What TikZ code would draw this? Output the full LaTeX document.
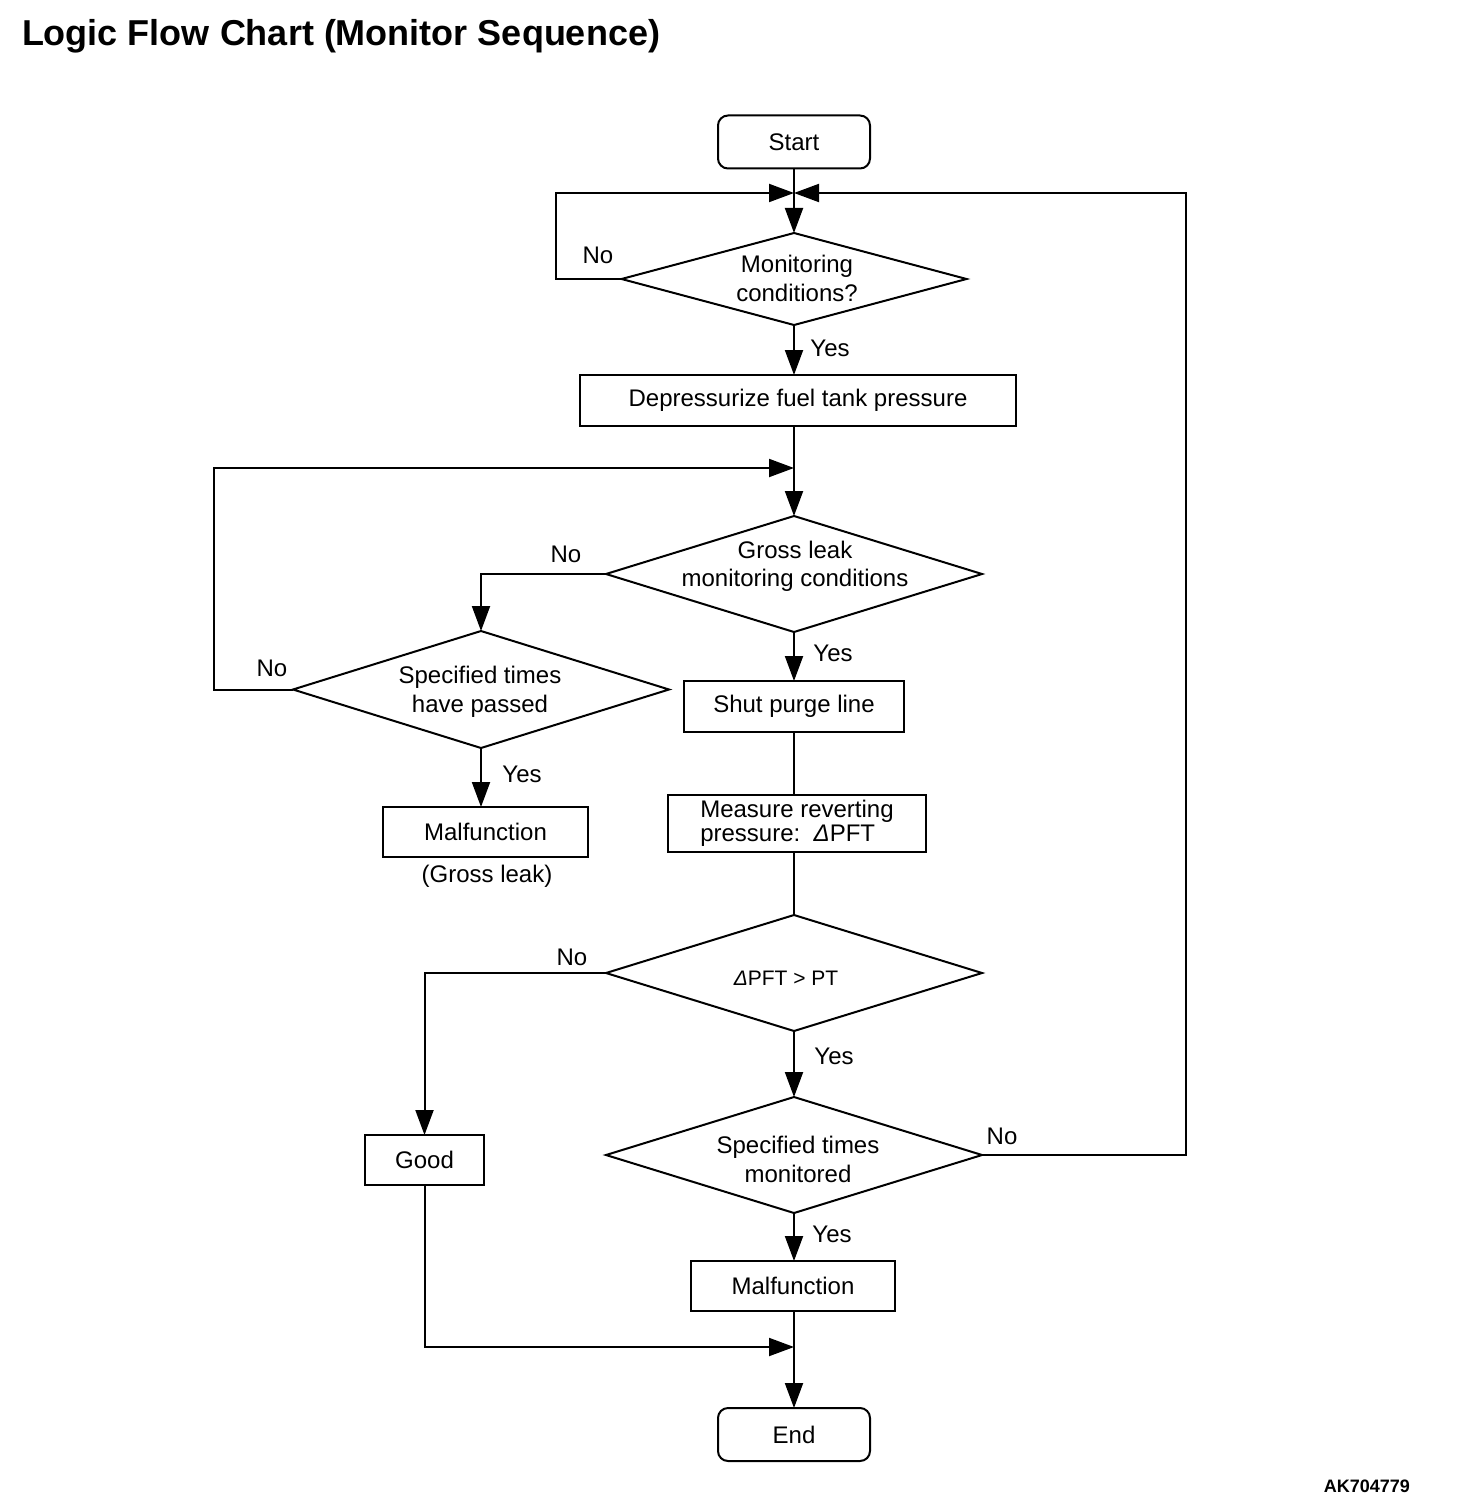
\documentclass[tikz,border=0pt]{standalone}
\usepackage{fontspec}
\setmainfont{Liberation Sans}
\usetikzlibrary{arrows.meta,shapes.geometric}
\begin{document}
\begin{tikzpicture}[x=1pt,y=-1pt,
  every node/.style={font=\fontsize{24}{29}\selectfont, inner sep=0pt, outer sep=0pt},
  box/.style 2 args={draw, line width=2pt, rectangle, minimum width=#1, minimum height=#2},
  term/.style={draw, line width=2pt, rectangle, rounded corners=10pt, minimum width=152pt, minimum height=53pt},
  dia/.style 2 args={draw, line width=2pt, diamond, minimum width=#1, minimum height=#2},
  ln/.style={line width=2pt},
  arr/.style={line width=2pt, -{Triangle[length=25pt,width=18pt]}},
]
\useasboundingbox (0,0) rectangle (1456,1506);

% title and code
\node[anchor=base west, font=\bfseries\fontsize{36}{36}\selectfont] (title) at (22,46) {Logic Flow Chart (Monitor Sequence)};
\node[anchor=base east, font=\bfseries\fontsize{18}{18}\selectfont] (code) at (1410,1492) {AK704779};

% nodes
\node[term] (start) at (794,142) {Start};
\coordinate (m1) at (794,193);
\node[dia={345pt}{92pt}] (d1) at (794,279) {};
\node[align=center] (t1) at (797,278) {Monitoring\\conditions?};
\node[box={436pt}{51pt}] (dep) at (798,400.5) {Depressurize fuel tank pressure};
\coordinate (m2) at (794,468);
\node[dia={376pt}{116pt}] (d2) at (794,574) {};
\node[align=center, font=\fontsize{24}{28}\selectfont] (t2) at (795,566) {Gross leak\\monitoring conditions};
\node[dia={376pt}{117pt}] (d3) at (481,689.5) {};
\node[align=center] (t3) at (480,691.5) {Specified times\\have passed};
\node[box={205pt}{50pt}] (mal1) at (485.5,832) {Malfunction};
\node (gl) at (487,876) {(Gross leak)};
\node[box={220pt}{51pt}] (shut) at (794,706.5) {Shut purge line};
\node[box={258pt}{57pt}, align=left, font=\fontsize{24}{24}\selectfont] (meas) at (797,823.5) {Measure reverting\\pressure:\ \ {\itshape Δ}PFT};
\node[dia={376pt}{116pt}] (d4) at (794,973) {};
\node[font=\fontsize{21}{21}\selectfont] (t4) at (786,978) {{\itshape Δ}PFT > PT};
\node[box={119pt}{50pt}] (good) at (424.5,1160) {Good};
\node[dia={376pt}{116pt}] (d5) at (794,1155) {};
\node[align=center] (t5) at (798,1159) {Specified times\\monitored};
\node[box={204pt}{50pt}] (mal2) at (793,1286) {Malfunction};
\coordinate (m3) at (794,1347);
\node[term] (end) at (794,1434.5) {End};

% labels
\node (n1) at (598,255) {No};
\node (y1) at (830,348) {Yes};
\node (n2) at (566,554) {No};
\node (y2) at (833,653) {Yes};
\node (n3) at (272,668) {No};
\node (y3) at (522,774) {Yes};
\node (n4) at (572,957) {No};
\node (y4) at (834,1056) {Yes};
\node (n5) at (1002,1136) {No};
\node (y5) at (832,1234) {Yes};

% connectors
\draw[ln] (start.south) -- (m1);
\draw[arr] (m1) -- (d1.north);
\draw[arr] (d1.west) -- ++(-66,0) |- (m1);
\draw[arr] (d5.east) -- ++(204,0) |- (m1);
\draw[arr] (d1.south) -- (d1.south |- dep.north);
\draw[ln] (m2 |- dep.south) -- (m2);
\draw[arr] (m2) -- (d2.north);
\draw[arr] (d2.west) -| (d3.north);
\draw[arr] (d3.west) -- ++(-79,0) |- (m2);
\draw[arr] (d3.south) -- (d3.south |- mal1.north);
\draw[arr] (d2.south) -- (shut.north);
\draw[ln] (shut.south) -- (shut.south |- meas.north);
\draw[ln] (shut.south |- meas.south) -- (d4.north);
\draw[arr] (d4.west) -| (good.north);
\draw[arr] (good.south) |- (m3);
\draw[arr] (d4.south) -- (d5.north);
\draw[arr] (d5.south) -- (d5.south |- mal2.north);
\draw[ln] (d5.south |- mal2.south) -- (m3);
\draw[arr] (m3) -- (end.north);
\end{tikzpicture}
\end{document}
